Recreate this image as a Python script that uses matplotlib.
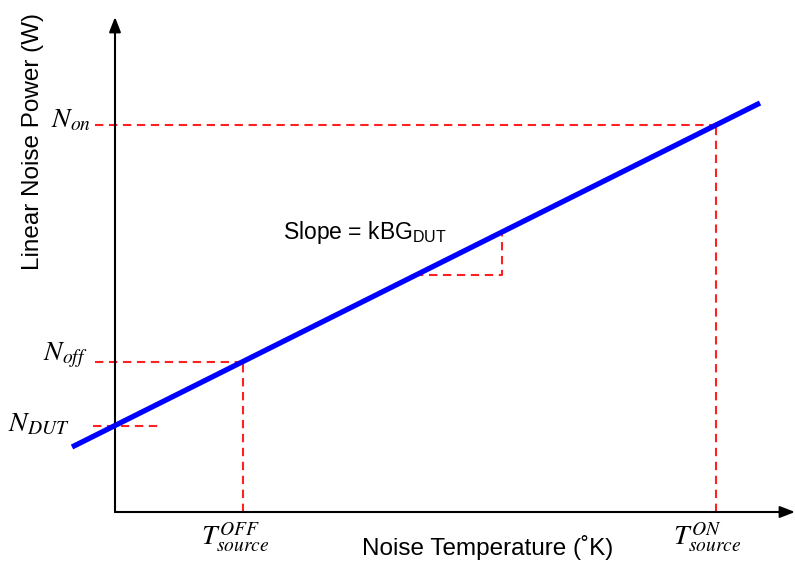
import matplotlib.pyplot as plt

plt.rcParams['font.family'] = ['Liberation Sans', 'DejaVu Sans']
plt.rcParams['mathtext.fontset'] = 'custom'
plt.rcParams['mathtext.rm'] = 'Liberation Sans'
plt.rcParams['mathtext.it'] = 'Liberation Sans:italic'

# noise line (temperature, power) in arbitrary diagram units
line_t = [-43, 645]
line_n = [65, 409]

t_off, n_off = 128, 150
t_on, n_on = 601, 387
n_dut = 86
dut_dash_end = 43
label_start = -20

# little slope triangle
tri_t = [300, 387, 387]
tri_n = [237, 237, 280]

x_max, y_max = 680, 495

red = '#ff2020'
fig = plt.figure(figsize=(7.95, 5.64), dpi=100)
ax = fig.add_axes([0, 0, 1, 1])
ax.set_xlim(-115, 680)
ax.set_ylim(-52, 512)
ax.axis('off')

# axes with arrows
arrow = dict(arrowstyle='-|>,head_length=0.9,head_width=0.35', color='black', lw=1.5, shrinkA=0, shrinkB=0)
ax.annotate('', xy=(0, y_max), xytext=(0, 0), arrowprops=arrow)
ax.annotate('', xy=(x_max, 0), xytext=(0, 0), arrowprops=arrow)

dash = dict(color=red, lw=1.5, dashes=(4, 2.7))
ax.plot([label_start, t_on], [n_on, n_on], **dash)
ax.plot([t_on, t_on], [0, n_on], **dash)
ax.plot([label_start, t_off], [n_off, n_off], **dash)
ax.plot([t_off, t_off], [0, n_off], **dash)
ax.plot([label_start - 2, dut_dash_end], [n_dut, n_dut], **dash)
ax.plot(tri_t, tri_n, **dash)

ax.plot(line_t, line_n, color='#0000ff', lw=3.8, solid_capstyle='butt', zorder=5)

ax.text(-82, 370, 'Linear Noise Power (W)', rotation=90, fontsize=17.5, ha='center', va='center')
ax.text(373, -35, 'Noise Temperature (˚K)', fontsize=17.5, ha='center', va='center')
ax.text(168, 279, r'Slope = kBG$_{\mathrm{DUT}}$', fontsize=16.5, ha='left', va='center')

mkw = dict(math_fontfamily='stix', fontsize=20)
ax.text(-24, 392, r'$N_{on}$', ha='right', va='center', **mkw)
ax.text(-28, 157, r'$N_{off}$', ha='right', va='center', **mkw)
ax.text(-46, 88, r'$N_{DUT}$', ha='right', va='center', **mkw)
ax.text(t_off - 8, -26, r'$T^{OFF}_{source}$', ha='center', va='center', **mkw)
ax.text(t_on - 9, -26, r'$T^{ON}_{source}$', ha='center', va='center', **mkw)

fig.savefig('out.png', dpi=100)
